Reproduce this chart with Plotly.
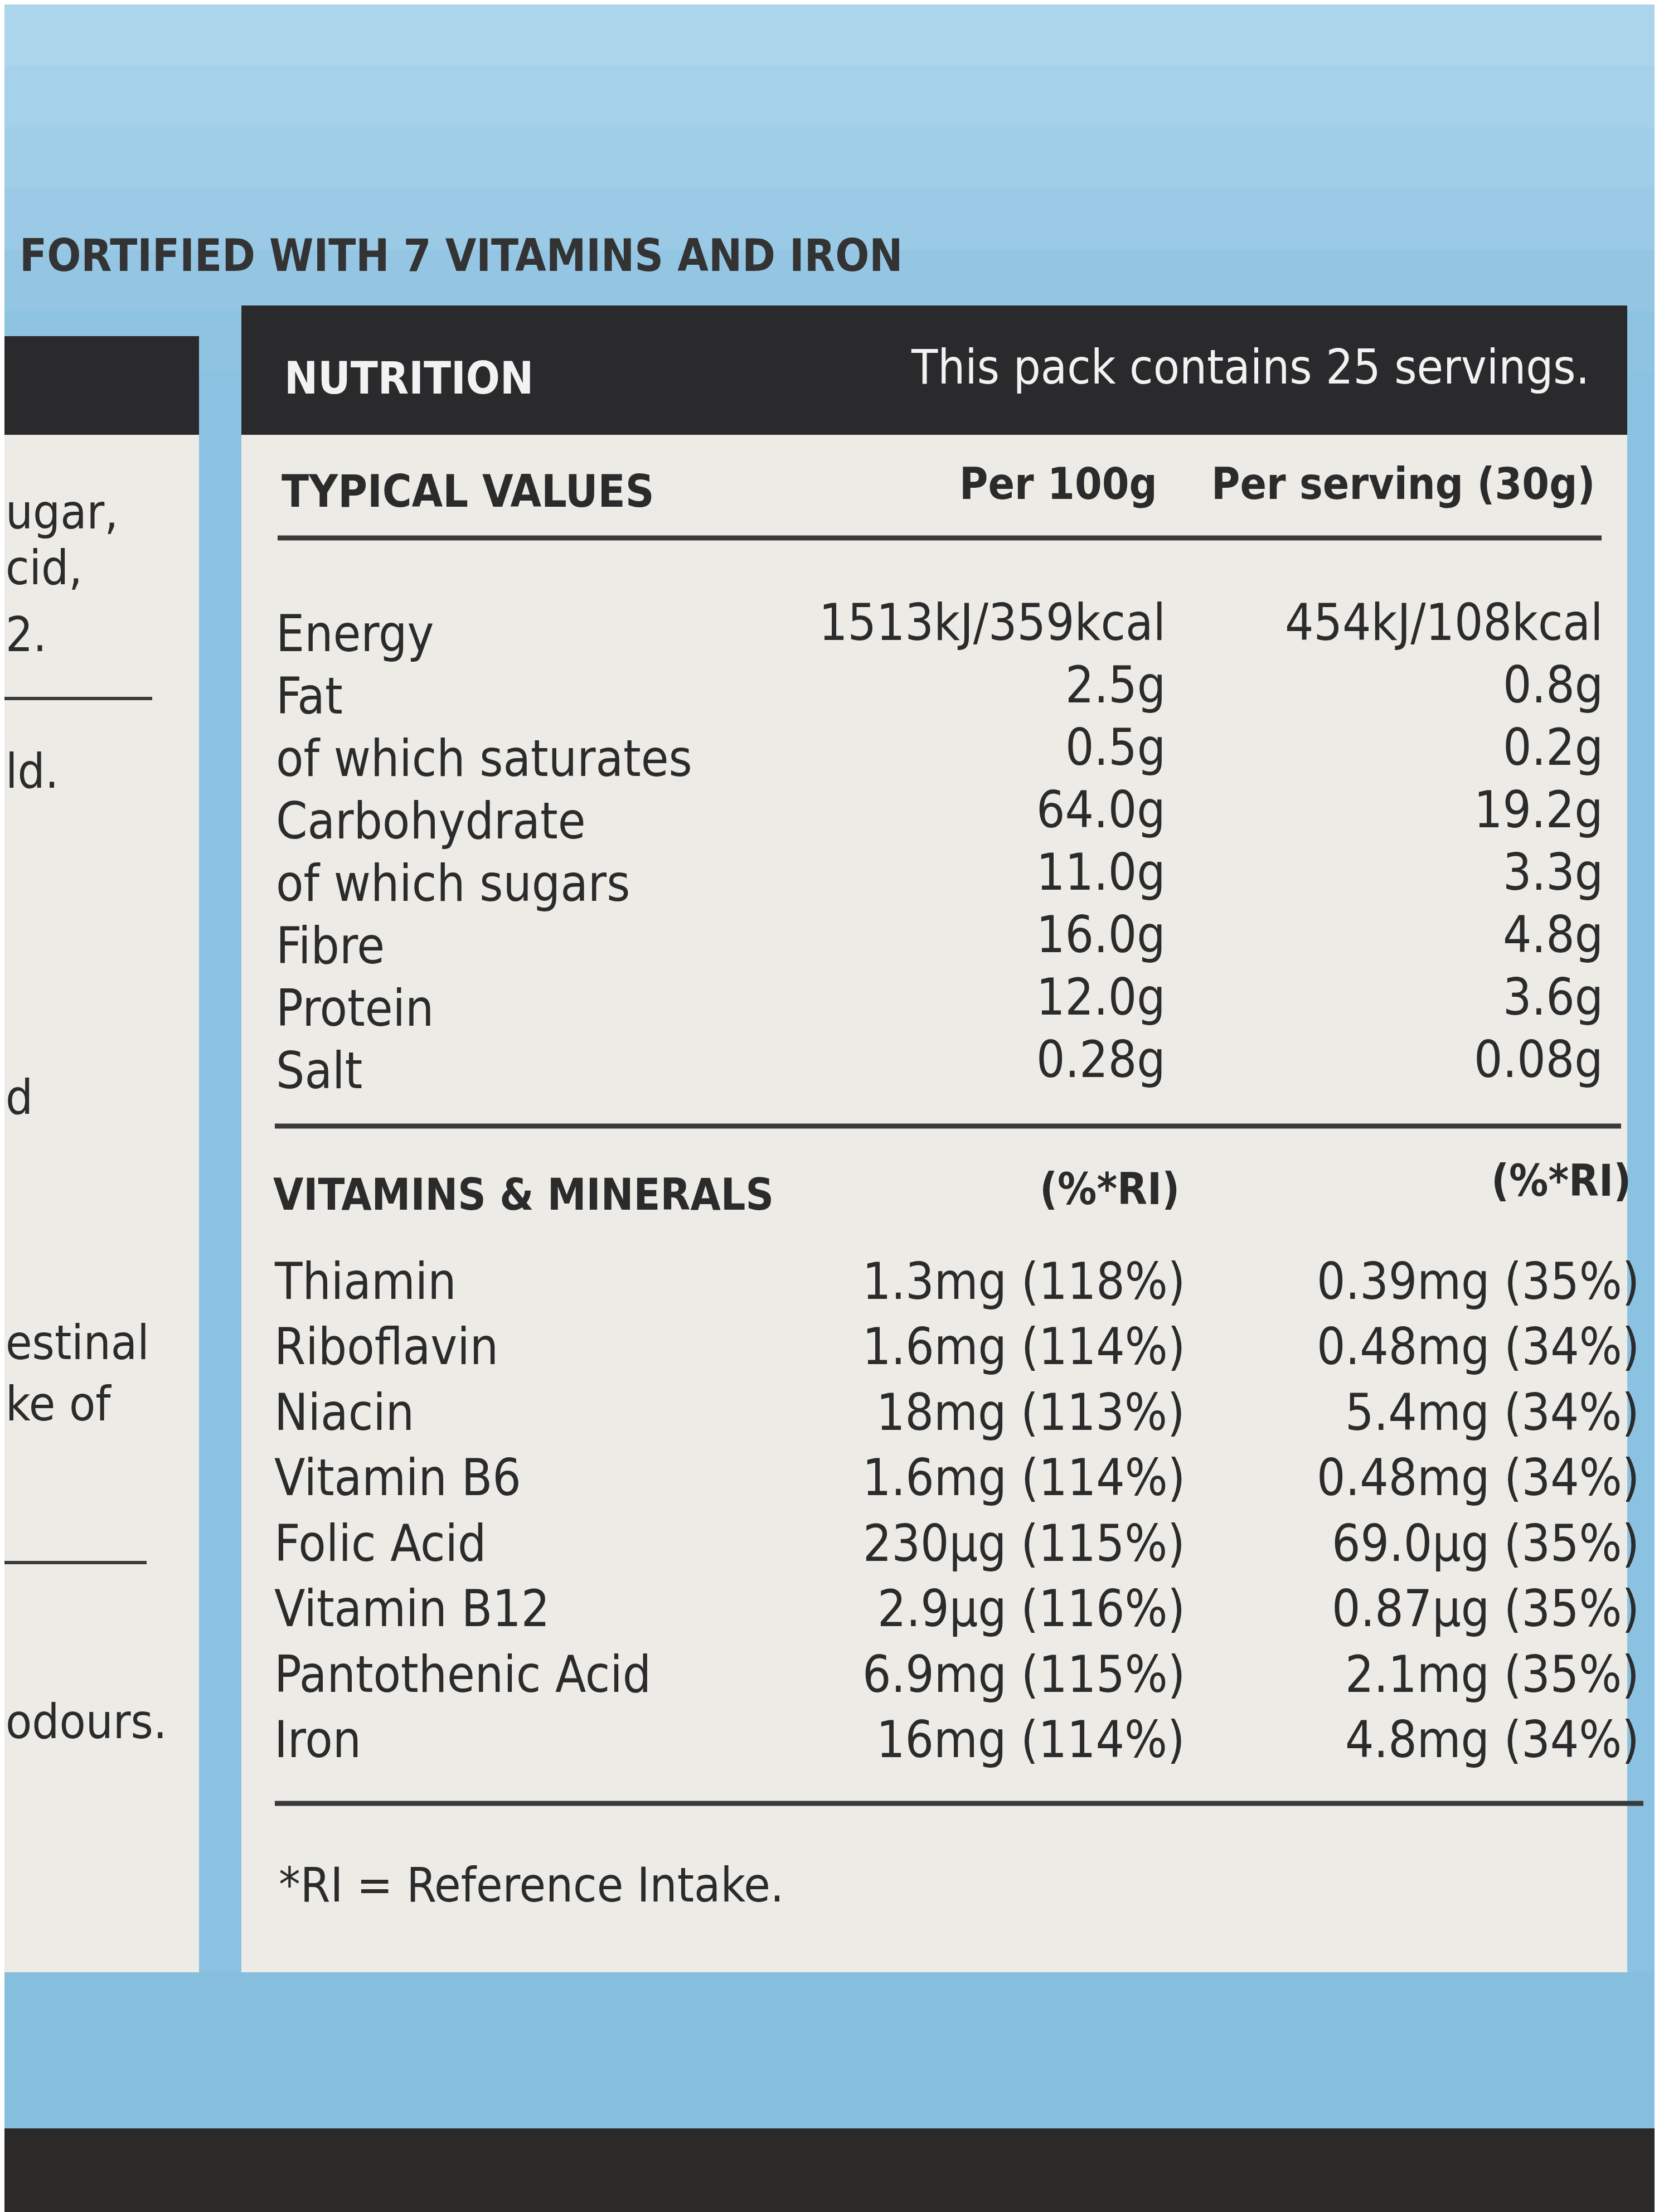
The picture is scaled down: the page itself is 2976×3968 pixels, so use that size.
import plotly.graph_objects as go

nutrients = ["Energy", "Fat", "of which saturates", "Carbohydrate", "of which sugars", "Fibre", "Protein", "Salt"]
per100 = ["1513kJ/359kcal", "2.5g", "0.5g", "64.0g", "11.0g", "16.0g", "12.0g", "0.28g"]
perserv = ["454kJ/108kcal", "0.8g", "0.2g", "19.2g", "3.3g", "4.8g", "3.6g", "0.08g"]
vitamins = ["Thiamin", "Riboflavin", "Niacin", "Vitamin B6", "Folic Acid", "Vitamin B12", "Pantothenic Acid", "Iron"]
vit100 = ["1.3mg (118%)", "1.6mg (114%)", "18mg (113%)", "1.6mg (114%)", "230µg (115%)", "2.9µg (116%)", "6.9mg (115%)", "16mg (114%)"]
vitserv = ["0.39mg (35%)", "0.48mg (34%)", "5.4mg (34%)", "0.48mg (34%)", "69.0µg (35%)", "0.87µg (35%)", "2.1mg (35%)", "4.8mg (34%)"]
left_frag = [("ugar,", 910), ("cid,", 1010), ("2.", 1130), ("ld.", 1375), ("d", 1960), ("estinal", 2400), ("ke of", 2510), ("odours.", 3080)]

W, H = 2976, 3968
FONT = "DejaVu Sans Condensed, Liberation Sans Narrow, sans-serif"
DARK = "#2a2a2c"
fig = go.Figure()
shapes = []
def rect(x0, y0, x1, y1, color):
    shapes.append(dict(type="rect", xref="x", yref="y", x0=x0, y0=y0, x1=x1, y1=y1,
                       fillcolor=color, line=dict(width=0), layer="below"))
def line(x0, y, x1, w=9):
    shapes.append(dict(type="line", xref="x", yref="y", x0=x0, y0=y, x1=x1, y1=y,
                       line=dict(color="#3a3a3a", width=w)))

bands = ["#acd5ec", "#a6d1ea", "#a0cde8", "#9acae6", "#94c6e4", "#8ec3e2"]
for k, c in enumerate(bands):
    rect(0, k * 110, W, (k + 1) * 110 + 2, c)
rect(0, 660, W, 3810, "#8cc2e1")
rect(0, 3530, W, 3810, "#86bede")
rect(0, 3810, W, H, "#2c2a28")
rect(0, 595, 349, 3530, "#ecebe6")
rect(0, 595, 349, 772, DARK)
rect(425, 540, 2911, 3530, "#ecebe6")
rect(425, 540, 2911, 772, DARK)
line(0, 1245, 265, 6)
line(0, 2795, 255, 6)
line(490, 957, 2865)
line(485, 2012, 2900)
line(485, 3227, 2940)

ann = []
def txt(x, y, s, size=90, anchor="left", color="#2b2b2b", bold=False):
    ann.append(dict(x=x, y=y, xref="x", yref="y", text=f"<b>{s}</b>" if bold else s, showarrow=False,
                    xanchor=anchor, yanchor="middle", font=dict(family=FONT, size=size, color=color)))

txt(25, 450, "FORTIFIED WITH 7 VITAMINS AND IRON", 80, bold=True, color="#333")
txt(500, 670, "NUTRITION", 80, bold=True, color="#f2f2f2")
txt(2845, 650, "This pack contains 25 servings.", 86, anchor="right", color="#f2f2f2")
txt(495, 873, "TYPICAL VALUES", 80, bold=True)
txt(2070, 860, "Per 100g", 78, anchor="right", bold=True)
txt(2855, 860, "Per serving (30g)", 78, anchor="right", bold=True)
for i, (n, a, b) in enumerate(zip(nutrients, per100, perserv)):
    y = 1108 + i * 112
    txt(485, y + 20, n)
    txt(2085, y, a, anchor="right")
    txt(2870, y, b, anchor="right")
txt(480, 2135, "VITAMINS &amp; MINERALS", 78, bold=True)
txt(2110, 2125, "(%*RI)", 78, anchor="right", bold=True)
txt(2920, 2110, "(%*RI)", 78, anchor="right", bold=True)
for i, (n, a, b) in enumerate(zip(vitamins, vit100, vitserv)):
    y = 2290 + i * 117.5
    txt(482, y, n)
    txt(2120, y, a, anchor="right")
    txt(2935, y, b, anchor="right")
txt(490, 3373, "*RI = Reference Intake.", 86)
for s, y in left_frag:
    txt(0, y, s, 86)

fig.update_layout(width=W, height=H, margin=dict(l=0, r=0, t=0, b=0),
                  paper_bgcolor="#8cc2e1", plot_bgcolor="#8cc2e1",
                  shapes=shapes, annotations=ann, showlegend=False,
                  xaxis=dict(range=[0, W], visible=False, fixedrange=True),
                  yaxis=dict(range=[H, 0], visible=False, fixedrange=True))
fig.write_html("out.html")
